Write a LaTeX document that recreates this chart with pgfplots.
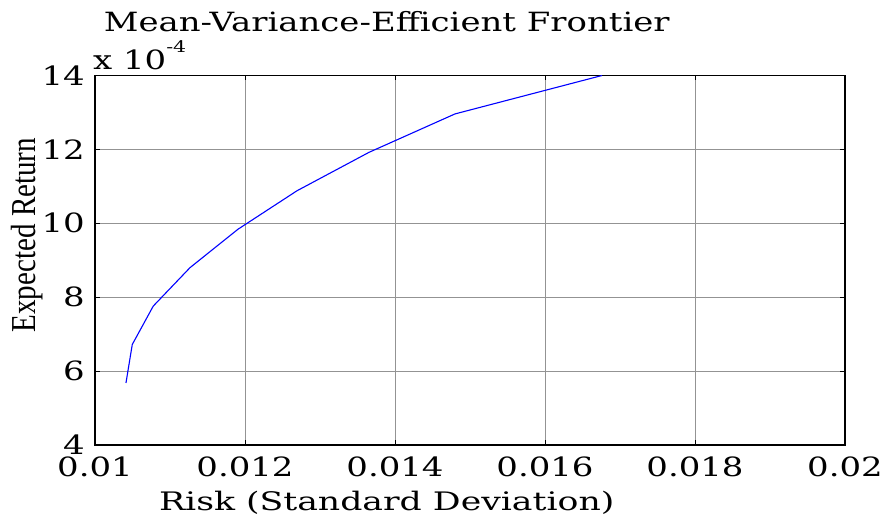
\documentclass[border=0pt]{standalone}
\usepackage{pgfplots}
\pgfplotsset{compat=1.18}
\usepackage{fontspec}
\setmainfont{DejaVu Serif}
\newfontfamily\wide[FakeStretch=1.28]{DejaVu Serif}
\newfontfamily\widex[FakeStretch=1.36]{DejaVu Serif}
\newfontfamily\narrow[FakeStretch=0.83]{Liberation Serif}
\begin{document}
\begin{tikzpicture}[x=1pt,y=1pt]
\begin{axis}[
  name=ax,
  at={(0,0)}, anchor=south west,
  scale only axis, width=750pt, height=369.5pt,
  xmin=0.01, xmax=0.02, ymin=4, ymax=14,
  scaled x ticks=false, scaled y ticks=false,
  xtick={0.01,0.012,0.014,0.016,0.018,0.02},
  xticklabels={0.01,0.012,0.014,0.016,0.018,0.02},
  ytick={4,6,8,10,12,14},
  yticklabels={4,6,8,10,12,14},
  tick align=inside, major tick length=5pt,
  grid=major, major grid style={gray!85, line width=0.8pt},
  axis line style={line width=1.6pt},
  tick style={black, line width=0.6pt},
  ticklabel style={font=\wide\fontsize{26.5}{30}\selectfont, inner sep=0pt},
  xticklabel style={anchor=north, yshift=-12pt},
  yticklabel style={anchor=east, xshift=-10pt},
  title={Mean-Variance-Efficient Frontier},
  title style={at={([yshift=38pt]axis description cs:0.389,1)}, anchor=base, inner sep=0pt,
    font=\wide\fontsize{26.5}{30}\selectfont},
  xlabel={Risk (Standard Deviation)},
  xlabel style={at={([yshift=-66pt]axis description cs:0.389,0)}, anchor=base, inner sep=0pt,
    font=\widex\fontsize{25.5}{28}\selectfont},
  ylabel={Expected Return},
  ylabel style={at={([xshift=-52pt]axis description cs:0,0.568)}, anchor=south, rotate=0, inner sep=0pt,
    font=\narrow\fontsize{35}{38}\selectfont},
]
\addplot[color={rgb,255:red,0;green,0;blue,255}, line width=1.1pt] coordinates {
  (0.010413,5.68) (0.010497,6.72) (0.010777,7.76) (0.011267,8.80)
  (0.011907,9.84) (0.012693,10.88) (0.013653,11.92) (0.0148,12.96)
  (0.01676,14.0)
};
\end{axis}
\node[anchor=base west, inner sep=0pt, font=\wide\fontsize{26.5}{30}\selectfont]
  at (-2,375) {x 10\raisebox{17.5pt}{\fontsize{16}{18}\selectfont -4}};
\pgfresetboundingbox
\path (-95,-71) rectangle (792,445);
\end{tikzpicture}
\end{document}
